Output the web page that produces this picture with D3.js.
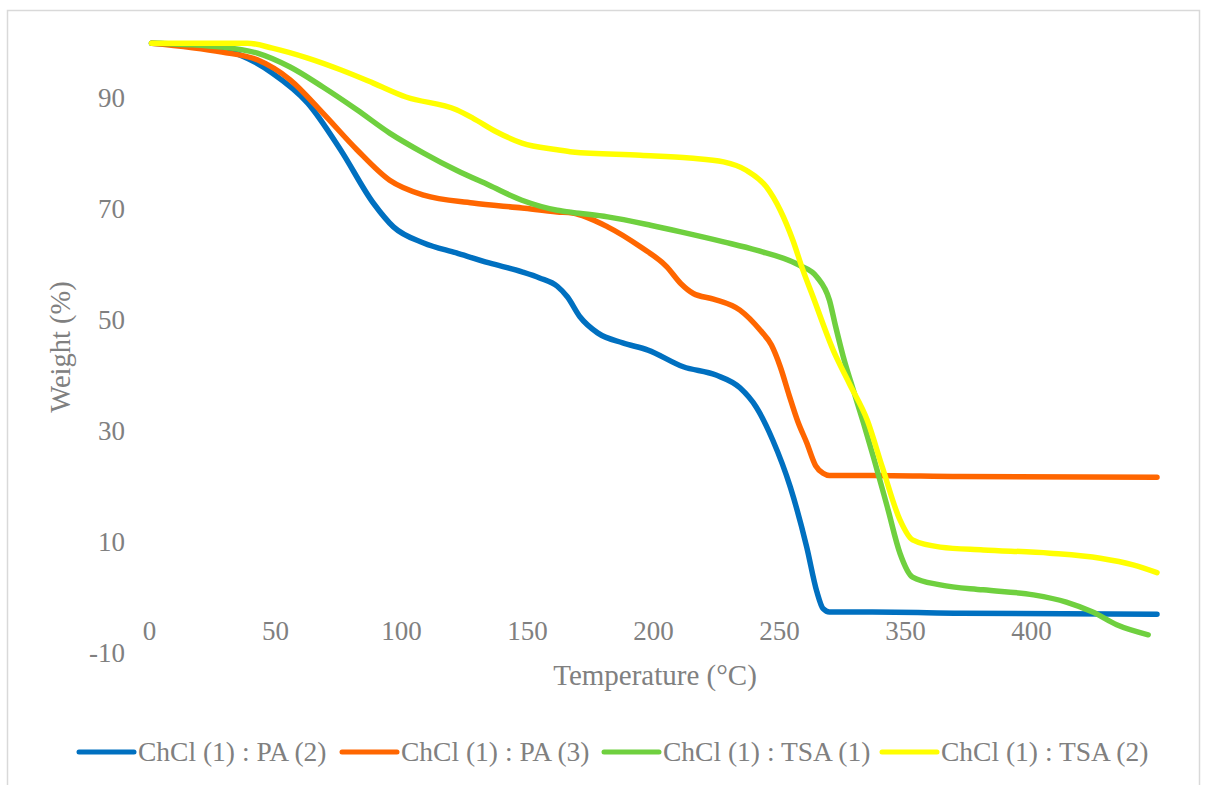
<!DOCTYPE html>
<html>
<head>
<meta charset="utf-8">
<script src="https://cdn.jsdelivr.net/npm/d3@7"></script>
<style>
  html, body { margin: 0; padding: 0; background: #ffffff; }
  svg { display: block; }
  text { font-family: "Palatino Linotype", "Book Antiqua", Palatino, "Liberation Serif", serif; fill: #808080; }
</style>
</head>
<body>
<svg id="chart" width="1206" height="785"></svg>
<script>
// Thermogravimetric curves: temperature (axis units) vs remaining weight (%)
const seriesNames = ["ChCl (1) : PA (2)", "ChCl (1) : PA (3)", "ChCl (1) : TSA (1)", "ChCl (1) : TSA (2)"];
const seriesColors = ["#0070C0", "#FF6600", "#6FD03F", "#FFFF00"];

const paTwo = [
  [1, 99.7], [23, 99.0], [36, 97.6], [49, 94.3], [63, 88.9], [76, 80.5], [89, 70.9],
  [97, 66.6], [109, 63.7], [122, 61.9], [135, 60.1], [148, 58.5], [155, 57.4], [162, 55.9],
  [166, 54.0], [171, 50.4], [178, 47.5], [188, 45.7], [198, 44.4], [212, 41.4], [225, 39.9],
  [234.5, 37.6], [241, 34.1], [247.5, 28.2], [254.5, 19.7], [261, 8.9], [265, 0.9],
  [267.5, -2.2], [270, -2.8], [287, -2.8], [322, -3.0], [400, -3.2]
];
const paThree = [
  [1, 99.7], [29, 98.1], [43, 96.7], [56, 93.1], [69, 87.1], [82.5, 80.5], [95.5, 75.0],
  [109, 72.3], [128.5, 70.9], [148, 70.0], [162, 69.3], [168, 69.1], [182, 66.6], [195, 63.0],
  [205.5, 59.4], [211, 56.4], [216, 54.6], [224, 53.6], [234.5, 51.6], [242.5, 48.0],
  [247, 45.3], [250.5, 41.4], [254, 36.3], [257.5, 31.5], [261, 27.7], [264.5, 23.6],
  [267.5, 22.2], [270, 21.8], [287, 21.8], [322, 21.6], [400, 21.5]
];
const tsaOne = [
  [1, 99.7], [29, 99.0], [43, 97.9], [56, 95.4], [69, 91.8], [82.5, 87.7], [95.5, 83.5],
  [109, 79.9], [122, 76.8], [135, 74.1], [148, 71.4], [162, 69.6], [168, 69.2], [182, 68.4],
  [199, 66.9], [211, 65.7], [228, 63.9], [241, 62.4], [258, 59.7], [265, 57.6], [270, 53.4],
  [272.5, 48.6], [275.5, 43.2], [279.5, 37.2], [283.5, 31.3], [287.5, 25.1], [293, 16.1],
  [298, 7.8], [303, 3.5], [314, 2.1], [331, 1.2], [351, 0.3], [364, -1.0], [374.5, -2.8],
  [384, -5.1], [396.5, -6.9]
];
const tsaTwo = [
  [1, 99.7], [39, 99.7], [49, 98.8], [63, 97.0], [76, 94.9], [89, 92.5], [102, 90.0],
  [122, 87.7], [128.5, 86.2], [138, 83.7], [148, 81.7], [162, 80.5], [168, 80.1], [195, 79.5],
  [214.5, 79.0], [228, 78.3], [237, 76.8], [245, 73.8], [250.5, 69.6], [255.5, 64.2],
  [259.5, 58.8], [263.5, 54.0], [271.5, 44.4], [278, 38.3], [285, 31.8], [291, 23.3],
  [298, 13.8], [303, 10.2], [314, 8.9], [331, 8.4], [357.5, 7.8], [377.5, 6.9], [390.5, 5.7],
  [400, 4.3]
];
const seriesData = [paTwo, paThree, tsaOne, tsaTwo];

const xTickValues = [0, 50, 100, 150, 200, 250, 300, 350];
const xTickLabels = ["0", "50", "100", "150", "200", "250", "350", "400"];
const yTickValues = [-10, 10, 30, 50, 70, 90];

const svg = d3.select("#chart");

// chart frame
svg.append("rect")
  .attr("x", 7.5).attr("y", 10.5)
  .attr("width", 1192).attr("height", 800)
  .attr("fill", "#ffffff")
  .attr("stroke", "#d9d9d9").attr("stroke-width", 1.5);

const x = d3.scaleLinear().domain([0, 400]).range([149, 1157]);
const y = d3.scaleLinear().domain([-10, 100]).range([652, 41.5]);

// y axis labels
const yAxis = d3.axisLeft(y).tickValues(yTickValues)
  .tickFormat(d => String(d)).tickSize(0).tickPadding(0);
const gy = svg.append("g").attr("transform", "translate(125,0)").call(yAxis);
gy.select(".domain").remove();
gy.selectAll("text")
  .style("font-size", "27px")
  .style("font-family", null)
  .attr("fill", "#808080")
  .attr("dy", "0.34em");

// x axis labels
const xAxis = d3.axisBottom(x).tickValues(xTickValues)
  .tickFormat((d, i) => xTickLabels[i]).tickSize(0).tickPadding(0);
const gx = svg.append("g").attr("transform", "translate(0,640)").call(xAxis);
gx.select(".domain").remove();
gx.selectAll("text")
  .style("font-size", "27px")
  .style("font-family", null)
  .attr("fill", "#808080")
  .attr("y", 0).attr("dy", 0);

// axis titles
svg.append("text")
  .attr("transform", "translate(70,347) rotate(-90)")
  .attr("text-anchor", "middle")
  .style("font-size", "28.5px")
  .text("Weight (%)");
svg.append("text")
  .attr("x", 655).attr("y", 685)
  .attr("text-anchor", "middle")
  .style("font-size", "29px")
  .text("Temperature (°C)");

// curves
const line = d3.line()
  .x(d => x(d[0]))
  .y(d => y(d[1]))
  .curve(d3.curveMonotoneX);

svg.append("g").selectAll("path")
  .data(seriesData)
  .join("path")
  .attr("d", line)
  .attr("fill", "none")
  .attr("stroke", (d, i) => seriesColors[i])
  .attr("stroke-width", 5.5)
  .attr("stroke-linecap", "round")
  .attr("stroke-linejoin", "round");

// legend
const legendStarts = [79, 342, 604, 882];
const legend = svg.append("g").selectAll("g")
  .data(seriesNames)
  .join("g")
  .attr("transform", (d, i) => `translate(${legendStarts[i]},752)`);
legend.append("line")
  .attr("x1", 0).attr("x2", 55)
  .attr("y1", 0).attr("y2", 0)
  .attr("stroke", (d, i) => seriesColors[i])
  .attr("stroke-width", 5)
  .attr("stroke-linecap", "round");
legend.append("text")
  .attr("x", 59).attr("y", 0).attr("dy", "0.34em")
  .style("font-size", "27.5px")
  .text(d => d);
</script>
</body>
</html>
